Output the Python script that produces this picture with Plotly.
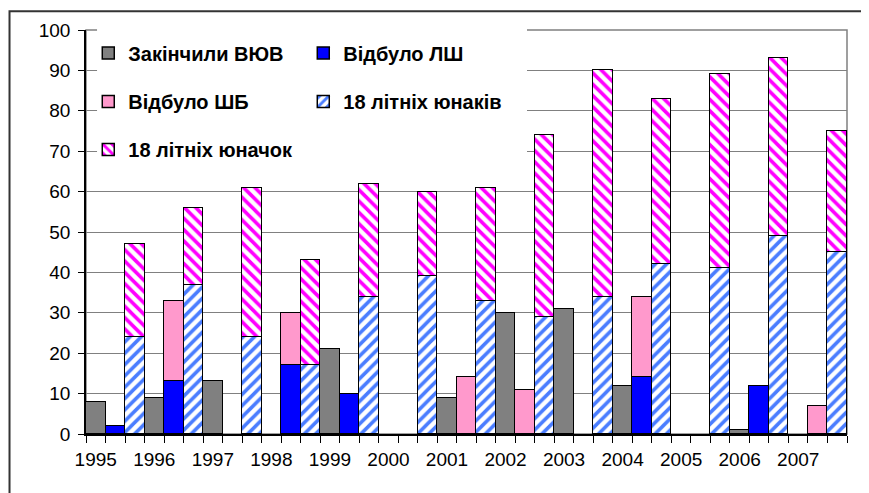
import plotly.graph_objects as go

# ---- data ----
years = ["1995", "1996", "1997", "1998", "1999", "2000", "2001",
         "2002", "2003", "2004", "2005", "2006", "2007"]
finished_vuv = [8, 9, 13, 0, 21, 0, 9, 30, 31, 12, 0, 1, 0]      # Закінчили ВЮВ
served_lsh = [2, 13, 0, 17, 10, 0, 0, 0, 0, 14, 0, 12, 0]        # Відбуло ЛШ
served_shb = [0, 20, 0, 13, 0, 0, 14, 11, 0, 20, 0, 0, 7]        # Відбуло ШБ
youths_m = [24, 37, 24, 17, 34, 39, 33, 29, 34, 42, 41, 49, 45]  # 18 літніх юнаків
youths_f = [23, 19, 37, 26, 28, 21, 28, 45, 56, 41, 48, 44, 30]  # 18 літніх юначок

names = ["Закінчили ВЮВ", "Відбуло ЛШ", "Відбуло ШБ",
         "18 літніх юнаків", "18 літніх юначок"]

FONT = "Liberation Sans, Arial, sans-serif"


def nz(vals):
    return [v if v else None for v in vals]


n = len(years)
slot_a = [3 * i for i in range(n)]
slot_b = [3 * i + 1 for i in range(n)]
slot_c = [3 * i + 2 for i in range(n)]

line = dict(color="black", width=1.5)

fig = go.Figure()
fig.add_trace(go.Bar(x=slot_a, y=nz(finished_vuv), name=names[0],
                     marker=dict(color="#808080", line=line), legend="legend"))
fig.add_trace(go.Bar(x=slot_b, y=nz(served_lsh), name=names[1],
                     marker=dict(color="#0000FF", line=line), legend="legend"))
fig.add_trace(go.Bar(x=slot_b, y=nz(served_shb), name=names[2],
                     marker=dict(color="#FF99CC", line=line), legend="legend2"))
fig.add_trace(go.Bar(x=slot_c, y=nz(youths_m), name=names[3],
                     marker=dict(color="white", line=line,
                                 pattern=dict(shape="/", fgcolor="#4A7DFF", bgcolor="white",
                                              size=8, solidity=0.45, fillmode="replace")),
                     legend="legend2"))
fig.add_trace(go.Bar(x=slot_c, y=nz(youths_f), name=names[4],
                     marker=dict(color="white", line=line,
                                 pattern=dict(shape="\\", fgcolor="#FF00FF", bgcolor="white",
                                              size=8, solidity=0.45, fillmode="replace")),
                     legend="legend3"))

leg_common = dict(orientation="h", xanchor="left", yanchor="middle",
                  bgcolor="rgba(0,0,0,0)", borderwidth=0, entrywidth=170,
                  font=dict(family=FONT, size=20, color="black", weight="bold"),
                  traceorder="normal")

# the page body has an 8px margin, so the figure is sized/offset accordingly
fig.update_layout(
    width=861, height=485,
    margin=dict(l=78, r=22, t=20, b=59),
    barmode="stack", bargap=0,
    plot_bgcolor="white", paper_bgcolor="white",
    font=dict(family=FONT, size=19, color="black"),
    xaxis=dict(range=[-0.5, 3 * n - 0.5], tickmode="array",
               tickvals=slot_a, ticktext=years,
               ticks="outside", ticklen=7, tickcolor="rgba(0,0,0,0)",
               showline=True, linecolor="black", linewidth=1.5,
               showgrid=False, zeroline=False,
               minor=dict(tickmode="array", tickvals=[i - 0.5 for i in range(3 * n + 1)],
                          ticks="outside", ticklen=7, tickcolor="black", tickwidth=1,
                          showgrid=False)),
    yaxis=dict(range=[0, 100], tickmode="linear", tick0=0, dtick=10,
               ticks="outside", ticklen=6, tickcolor="black", ticklabelstandoff=4,
               showline=True, linecolor="black", linewidth=1.5,
               showgrid=True, gridcolor="#808080", gridwidth=1, zeroline=False),
    legend=dict(leg_common, x=0.003, y=0.943),
    legend2=dict(leg_common, x=0.003, y=0.823),
    legend3=dict(leg_common, x=0.003, y=0.704),
    shapes=[
        # plot-area border (grey)
        dict(type="rect", xref="paper", yref="paper", x0=0, x1=1, y0=0, y1=1,
             line=dict(color="#808080", width=1.5), layer="below"),
        # white legend area covering grid lines
        dict(type="rect", xref="paper", yref="paper", x0=0.0145, x1=0.5795,
             y0=0.66, y1=1.02, fillcolor="white", line=dict(width=0), layer="above"),
        # chart-area outer border
        dict(type="rect", xref="paper", yref="paper", x0=-0.1005, x1=1.0204,
             y0=-0.25, y1=1.0465, line=dict(color="#333333", width=2), layer="below"),
    ],
)

fig.write_html("out.html")
